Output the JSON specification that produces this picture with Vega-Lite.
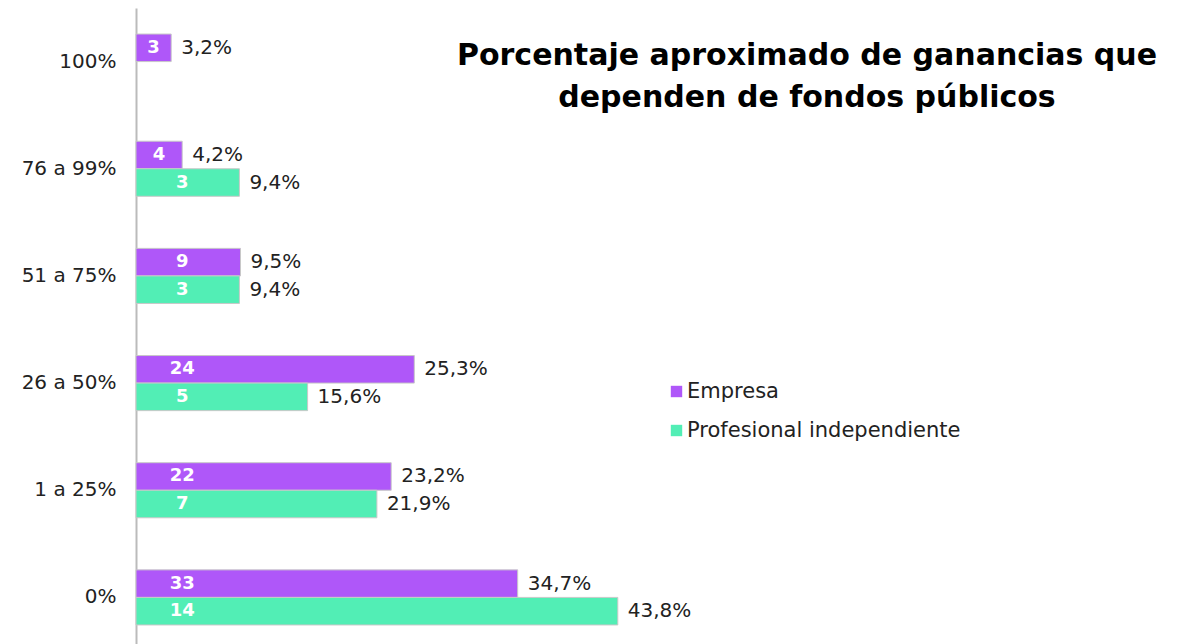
{
  "$schema": "https://vega.github.io/schema/vega-lite/v6.json",
  "autosize": "none",
  "width": 1050,
  "height": 643,
  "padding": {"left": 136, "top": 8, "right": 0, "bottom": 0},
  "background": "white",
  "config": {"view": {"stroke": null}},
  "title": {
    "text": ["Porcentaje aproximado de ganancias que", "dependen de fondos públicos"],
    "anchor": "middle",
    "dx": 146,
    "dy": 109,
    "fontSize": 30,
    "fontWeight": "bold",
    "font": "DejaVu Sans",
    "color": "#000000",
    "lineHeight": 42
  },
  "data": {
    "values": [
      {"cat": "100%", "serie": "Empresa", "n": 3, "pct": 3.2, "lbl": "3,2%"},
      {"cat": "76 a 99%", "serie": "Empresa", "n": 4, "pct": 4.2, "lbl": "4,2%"},
      {"cat": "76 a 99%", "serie": "Profesional independiente", "n": 3, "pct": 9.4, "lbl": "9,4%"},
      {"cat": "51 a 75%", "serie": "Empresa", "n": 9, "pct": 9.5, "lbl": "9,5%"},
      {"cat": "51 a 75%", "serie": "Profesional independiente", "n": 3, "pct": 9.4, "lbl": "9,4%"},
      {"cat": "26 a 50%", "serie": "Empresa", "n": 24, "pct": 25.3, "lbl": "25,3%"},
      {"cat": "26 a 50%", "serie": "Profesional independiente", "n": 5, "pct": 15.6, "lbl": "15,6%"},
      {"cat": "1 a 25%", "serie": "Empresa", "n": 22, "pct": 23.2, "lbl": "23,2%"},
      {"cat": "1 a 25%", "serie": "Profesional independiente", "n": 7, "pct": 21.9, "lbl": "21,9%"},
      {"cat": "0%", "serie": "Empresa", "n": 33, "pct": 34.7, "lbl": "34,7%"},
      {"cat": "0%", "serie": "Profesional independiente", "n": 14, "pct": 43.8, "lbl": "43,8%"}
    ]
  },
  "transform": [{"calculate": "min(datum.pct / 2, 4.2)", "as": "nx"}],
  "encoding": {
    "y": {
      "field": "cat",
      "type": "nominal",
      "sort": ["100%", "76 a 99%", "51 a 75%", "26 a 50%", "1 a 25%", "0%"],
      "scale": {"paddingInner": 0.486, "paddingOuter": 0.243},
      "axis": {
        "title": null,
        "ticks": false,
        "domainColor": "#bbbbbb",
        "domainWidth": 2,
        "labelFontSize": 20,
        "labelFont": "DejaVu Sans",
        "labelColor": "#222222",
        "labelPadding": 20
      }
    },
    "yOffset": {
      "field": "serie",
      "type": "nominal",
      "sort": ["Empresa", "Profesional independiente"],
      "scale": {"paddingInner": 0, "paddingOuter": 0}
    }
  },
  "layer": [
    {
      "mark": {"type": "bar", "stroke": "#c8c8c8", "strokeWidth": 1},
      "encoding": {
        "x": {"field": "pct", "type": "quantitative", "scale": {"domain": [0, 95.4545], "nice": false, "zero": true}, "axis": null},
        "color": {
          "field": "serie",
          "type": "nominal",
          "scale": {"domain": ["Empresa", "Profesional independiente"], "range": ["#AF57F9", "#52EEB5"]},
          "legend": {
            "title": null,
            "orient": "none",
            "legendX": 530,
            "legendY": 373,
            "symbolType": "square",
            "symbolSize": 130,
            "symbolStrokeWidth": 0,
            "labelFontSize": 21,
            "labelFont": "DejaVu Sans",
            "labelColor": "#222222",
            "labelLimit": 500,
            "rowPadding": 17,
            "labelOffset": 0
          }
        }
      }
    },
    {
      "mark": {"type": "text", "align": "left", "dx": 10, "fontSize": 20, "font": "DejaVu Sans", "color": "#222222"},
      "encoding": {
        "x": {"field": "pct", "type": "quantitative"},
        "text": {"field": "lbl"}
      }
    },
    {
      "mark": {"type": "text", "align": "center", "fontSize": 18, "fontWeight": "bold", "font": "DejaVu Sans", "color": "white"},
      "encoding": {
        "x": {"field": "nx", "type": "quantitative"},
        "text": {"field": "n"}
      }
    }
  ]
}
